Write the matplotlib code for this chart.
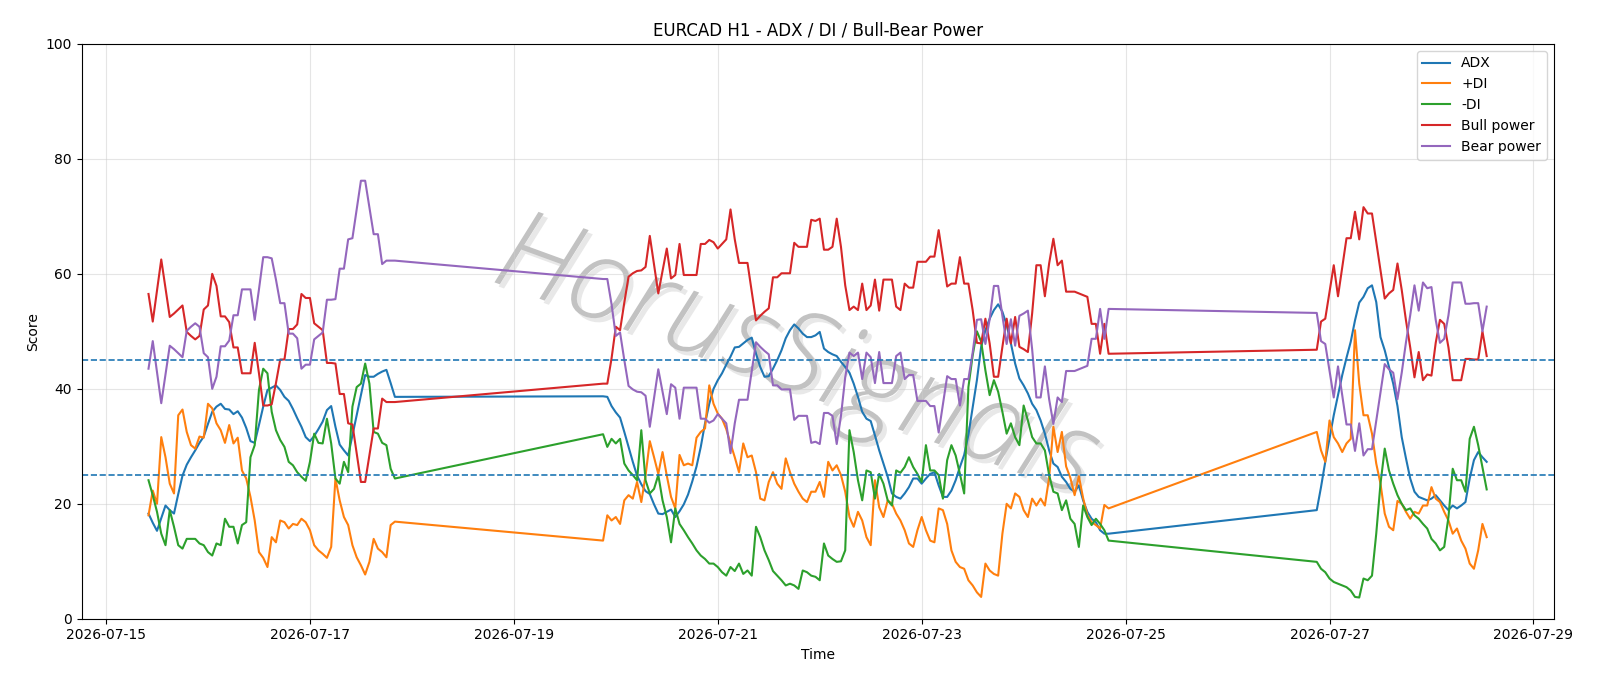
import matplotlib
matplotlib.use("Agg")
import matplotlib.pyplot as plt
import matplotlib.dates as mdates
import matplotlib.patheffects as pe
import numpy as np
import pandas as pd

# Hourly segments (market closed at weekends)
segment_starts = ["2026-07-15 10:00", "2026-07-19 21:00", "2026-07-26 21:00"]

adx_seg1 = [18.3, 16.7, 15.3, 17.5, 19.7, 18.9, 18.3, 21.7, 24.9, 26.8,
            28.1, 29.3, 30.6, 31.7, 33.9, 36.0, 36.9, 37.4, 36.5, 36.4,
            35.6, 36.1, 35.0, 33.2, 30.9, 30.6, 33.7, 36.9, 39.8, 40.2,
            40.6, 39.8, 38.6, 37.9, 36.5, 34.9, 33.4, 31.6, 30.9, 31.8,
            33.0, 34.3, 36.3, 37.0, 33.4, 30.3, 29.3, 28.4, 31.9, 35.4,
            38.9, 42.4, 42.1, 42.1, 42.6, 43.0, 43.3, 41.0, 38.6]
adx_seg2 = [38.7, 38.6, 37.0, 35.9, 35.0, 32.5, 29.9, 27.3, 24.9, 23.4,
            22.2, 21.7, 19.9, 18.3, 18.2, 18.6, 19.0, 17.7, 18.7, 19.9,
            21.6, 23.9, 26.5, 29.9, 34.0, 37.4, 40.0, 41.5, 42.7, 44.2,
            45.6, 47.2, 47.3, 47.9, 48.5, 48.9, 46.1, 43.8, 42.1, 42.2,
            43.5, 45.0, 46.7, 48.8, 50.2, 51.2, 50.5, 49.6, 49.0, 49.0,
            49.3, 49.9, 47.0, 46.4, 46.0, 45.7, 44.7, 43.8, 42.8, 40.9,
            38.6, 36.0, 34.8, 34.4, 31.9, 29.3, 27.0, 24.7, 21.8, 21.2,
            20.9, 21.8, 22.9, 24.4, 24.4, 23.5, 24.4, 25.2, 25.5, 23.2,
            21.2, 21.2, 22.3, 24.1, 26.4, 28.5, 32.0, 36.8, 41.5, 47.3,
            50.2, 52.2, 53.7, 54.7, 53.4, 51.1, 47.9, 44.4, 41.8, 40.6,
            39.2, 37.4, 36.3, 34.5, 32.2, 29.3, 27.0, 26.4, 24.7, 23.8,
            22.6, 22.1, 23.2, 20.6, 18.6, 17.4, 16.8, 15.4, 14.8, 14.8]
adx_seg3 = [18.9, 22.9, 27.3, 31.3, 35.4, 38.9, 42.4, 45.4, 48.2, 51.9,
            55.0, 56.0, 57.5, 58.0, 55.1, 49.0, 46.7, 43.8, 40.9, 37.0,
            31.6, 27.9, 24.4, 22.1, 21.2, 20.9, 20.6, 20.9, 21.5, 20.6,
            19.7, 18.9, 19.7, 19.2, 19.7, 20.3, 24.4, 27.6, 29.0, 28.1,
            27.3]

pdi_seg1 = [18.0, 22.3, 20.0, 31.6, 28.1, 23.5, 21.8, 35.4, 36.4, 32.5,
            30.2, 29.6, 31.7, 31.5, 37.4, 36.6, 34.0, 32.8, 30.6, 33.7,
            30.5, 31.5, 25.8, 24.4, 21.2, 17.1, 11.6, 10.6, 9.0, 14.2,
            13.3, 17.1, 16.8, 15.7, 16.5, 16.3, 17.4, 16.8, 15.4, 12.8,
            11.9, 11.3, 10.6, 12.5, 24.4, 20.6, 17.7, 16.3, 12.8, 10.7,
            9.3, 7.7, 9.9, 13.9, 12.2, 11.6, 10.7, 16.3, 16.9]
pdi_seg2 = [13.6, 18.0, 17.1, 17.7, 16.5, 20.6, 21.5, 20.9, 23.8, 20.3,
            24.9, 30.9, 28.1, 25.2, 29.0, 24.9, 21.2, 19.2, 28.5, 26.7,
            27.0, 26.7, 31.5, 32.5, 33.1, 40.6, 37.4, 35.7, 34.8, 33.0,
            30.5, 28.1, 25.5, 30.5, 28.1, 28.4, 25.5, 20.9, 20.6, 23.8,
            25.5, 23.5, 22.6, 27.9, 25.5, 23.5, 22.1, 20.9, 20.3, 22.1,
            22.1, 23.8, 21.2, 27.3, 25.8, 26.7, 25.0, 22.1, 17.7, 16.0,
            18.6, 17.1, 14.2, 12.8, 24.1, 19.4, 17.7, 20.6, 20.0, 18.3,
            17.1, 15.4, 13.1, 12.5, 15.4, 17.7, 15.4, 13.6, 13.3, 19.2,
            18.9, 16.5, 11.9, 9.9, 9.0, 8.7, 6.7, 5.8, 4.6, 3.8,
            9.6, 8.4, 7.8, 7.5, 14.8, 20.0, 19.2, 21.8, 21.2, 18.9,
            17.7, 20.9, 19.7, 20.9, 19.7, 24.5, 33.4, 29.0, 32.5, 26.5,
            24.5, 21.5, 24.8, 21.0, 18.0, 16.8, 16.3, 15.7, 19.8, 19.2]
pdi_seg3 = [32.5, 29.3, 27.3, 34.5, 31.6, 30.5, 29.0, 30.5, 31.3, 50.2,
            40.9, 35.4, 35.4, 32.2, 27.0, 23.5, 18.3, 16.0, 15.4, 20.5,
            20.0, 18.6, 17.4, 18.6, 18.3, 19.7, 19.7, 22.9, 20.9, 20.3,
            18.6, 17.1, 14.8, 15.7, 13.6, 12.2, 9.6, 8.7, 11.9, 16.5,
            14.2]

mdi_seg1 = [24.1, 21.5, 18.6, 14.8, 12.8, 18.9, 16.0, 12.8, 12.2, 13.9,
            13.9, 13.9, 13.1, 12.8, 11.6, 11.0, 13.1, 12.8, 17.4, 16.0,
            16.0, 13.1, 16.3, 16.8, 28.1, 30.2, 39.8, 43.5, 42.7, 36.0,
            32.8, 31.1, 29.9, 27.3, 26.7, 25.5, 24.7, 24.0, 27.3, 32.2,
            30.6, 30.5, 34.8, 30.5, 24.4, 23.5, 27.3, 25.5, 36.9, 40.3,
            40.9, 44.4, 40.9, 32.5, 32.2, 30.6, 30.2, 26.1, 24.4]
mdi_seg2 = [32.1, 29.9, 31.3, 30.5, 31.3, 27.0, 25.8, 25.0, 24.1, 32.8,
            24.1, 21.8, 22.6, 25.0, 20.6, 17.7, 13.3, 19.2, 16.5, 15.4,
            14.2, 13.1, 11.9, 11.0, 10.4, 9.6, 9.6, 9.0, 8.1, 7.5,
            9.0, 8.3, 9.6, 7.8, 8.4, 7.5, 16.0, 14.2, 11.9, 10.2,
            8.3, 7.5, 6.7, 5.8, 6.1, 5.8, 5.2, 8.4, 8.1, 7.5,
            7.3, 6.7, 13.1, 11.0, 10.4, 9.9, 10.0, 11.9, 32.8, 29.0,
            24.1, 20.6, 25.8, 25.5, 20.9, 25.2, 23.5, 20.6, 19.7, 25.8,
            25.4, 26.4, 28.1, 26.4, 25.2, 23.8, 30.2, 25.8, 25.8, 25.0,
            20.9, 27.6, 30.2, 28.4, 25.2, 21.8, 40.3, 45.8, 50.0, 48.2,
            43.2, 38.9, 41.5, 39.5, 36.0, 32.2, 34.0, 31.6, 30.2, 37.1,
            34.5, 31.6, 30.5, 30.5, 29.3, 25.0, 22.1, 21.8, 18.9, 20.6,
            17.4, 16.5, 12.5, 19.7, 17.7, 16.3, 17.4, 16.5, 15.4, 13.6]
mdi_seg3 = [9.9, 8.7, 8.1, 7.0, 6.4, 6.1, 5.8, 5.5, 4.9, 3.8,
            3.7, 7.0, 6.7, 7.5, 14.8, 23.5, 29.6, 25.8, 23.5, 21.5,
            20.0, 18.9, 19.2, 18.0, 17.4, 16.5, 15.7, 13.9, 13.1, 11.9,
            12.5, 17.7, 26.1, 24.1, 24.1, 22.1, 31.3, 33.4, 30.2, 26.4,
            22.5]

bull_seg1 = [56.5, 51.7, 57.1, 62.5, 57.5, 52.5, 53.1, 53.8, 54.5, 49.9,
             49.2, 48.6, 49.2, 53.8, 54.5, 60.0, 57.9, 52.6, 52.6, 51.6,
             47.2, 47.2, 42.7, 42.7, 42.7, 48.0, 42.7, 37.1, 37.1, 37.3,
             41.0, 45.1, 45.1, 50.4, 50.4, 51.2, 56.5, 55.8, 55.8, 51.4,
             50.8, 50.2, 44.5, 44.5, 44.4, 39.1, 39.1, 34.0, 33.8, 28.8,
             23.8, 23.8, 28.4, 33.1, 33.1, 38.3, 37.7, 37.7, 37.7]
bull_seg2 = [40.9, 40.9, 45.3, 50.8, 50.2, 55.0, 59.5, 60.1, 60.5, 60.6,
             61.2, 66.6, 61.6, 56.6, 60.5, 64.4, 59.2, 59.8, 65.2, 59.8,
             59.8, 59.8, 59.8, 65.2, 65.2, 65.9, 65.5, 64.4, 65.2, 66.0,
             71.2, 66.0, 61.9, 61.9, 61.9, 56.9, 51.9, 52.7, 53.4, 54.0,
             59.4, 59.4, 60.1, 60.1, 60.1, 65.4, 64.7, 64.7, 64.7, 69.4,
             69.2, 69.6, 64.2, 64.2, 64.7, 69.6, 64.7, 58.0, 53.7, 54.3,
             53.7, 58.3, 53.7, 54.5, 59.0, 53.6, 59.0, 59.0, 59.0, 54.3,
             53.7, 58.3, 57.6, 57.6, 62.1, 62.1, 62.1, 63.0, 63.0, 67.6,
             62.7, 57.8, 58.3, 58.3, 62.9, 58.3, 58.3, 53.7, 48.0, 47.9,
             52.2, 47.9, 42.1, 42.1, 47.3, 52.2, 47.9, 52.5, 47.3, 46.9,
             46.4, 53.1, 61.5, 61.5, 56.1, 61.8, 66.1, 61.5, 62.3, 56.9,
             56.9, 56.9, 56.6, 56.3, 56.0, 51.3, 51.3, 46.1, 51.3, 46.1]
bull_seg3 = [46.8, 51.7, 52.2, 56.9, 61.5, 56.1, 61.2, 66.2, 66.2, 70.8,
             66.0, 71.6, 70.5, 70.5, 65.6, 60.7, 55.7, 56.6, 57.2, 61.8,
             57.2, 51.9, 47.2, 42.0, 46.4, 41.5, 42.5, 42.3, 48.0, 52.0,
             51.3, 47.2, 41.5, 41.5, 41.5, 45.2, 45.2, 45.1, 45.1, 50.0,
             45.7]

bear_seg1 = [43.5, 48.3, 42.9, 37.5, 42.5, 47.5, 46.9, 46.2, 45.5, 50.1,
             50.8, 51.4, 50.8, 46.2, 45.5, 40.0, 42.1, 47.4, 47.4, 48.4,
             52.8, 52.8, 57.3, 57.3, 57.3, 52.0, 57.3, 62.9, 62.9, 62.7,
             59.0, 54.9, 54.9, 49.6, 49.6, 48.8, 43.5, 44.2, 44.2, 48.6,
             49.2, 49.8, 55.5, 55.5, 55.6, 60.9, 60.9, 66.0, 66.2, 71.2,
             76.2, 76.2, 71.6, 66.9, 66.9, 61.7, 62.3, 62.3, 62.3]
bear_seg2 = [59.1, 59.1, 54.7, 49.2, 49.8, 45.0, 40.5, 39.9, 39.5, 39.4,
             38.8, 33.4, 38.4, 43.4, 39.5, 35.6, 40.8, 40.2, 34.8, 40.2,
             40.2, 40.2, 40.2, 34.8, 34.8, 34.1, 34.5, 35.6, 34.8, 34.0,
             28.8, 34.0, 38.1, 38.1, 38.1, 43.1, 48.1, 47.3, 46.6, 46.0,
             40.6, 40.6, 39.9, 39.9, 39.9, 34.6, 35.3, 35.3, 35.3, 30.6,
             30.8, 30.4, 35.8, 35.8, 35.3, 30.4, 35.3, 42.0, 46.3, 45.7,
             46.3, 41.7, 46.3, 45.5, 41.0, 46.4, 41.0, 41.0, 41.0, 45.7,
             46.3, 41.7, 42.4, 42.4, 37.9, 37.9, 37.9, 37.0, 37.0, 32.4,
             37.3, 42.2, 41.7, 41.7, 37.1, 41.7, 41.7, 46.3, 52.0, 52.1,
             47.8, 52.1, 57.9, 57.9, 52.7, 47.8, 52.1, 47.5, 52.7, 53.1,
             53.6, 46.9, 38.5, 38.5, 43.9, 38.2, 33.9, 38.5, 37.7, 43.1,
             43.1, 43.1, 43.4, 43.7, 44.0, 48.7, 48.7, 53.9, 48.7, 53.9]
bear_seg3 = [53.2, 48.3, 47.8, 43.1, 38.5, 43.9, 38.8, 33.8, 33.8, 29.2,
             34.0, 28.4, 29.5, 29.5, 34.4, 39.3, 44.3, 43.4, 42.8, 38.2,
             42.8, 48.1, 52.8, 58.0, 53.6, 58.5, 57.5, 57.7, 52.0, 48.0,
             48.7, 52.8, 58.5, 58.5, 58.5, 54.8, 54.8, 54.9, 54.9, 50.0,
             54.3]

upper_level = 45
lower_level = 25


def build(segs):
    times, vals = [], []
    for start, seg in zip(segment_starts, segs):
        times.append(pd.date_range(start, periods=len(seg), freq="h"))
        vals.extend(seg)
    return times[0].append(times[1:]), np.array(vals)


series = [
    ("ADX", "#1f77b4", [adx_seg1, adx_seg2, adx_seg3]),
    ("+DI", "#ff7f0e", [pdi_seg1, pdi_seg2, pdi_seg3]),
    ("-DI", "#2ca02c", [mdi_seg1, mdi_seg2, mdi_seg3]),
    ("Bull power", "#d62728", [bull_seg1, bull_seg2, bull_seg3]),
    ("Bear power", "#9467bd", [bear_seg1, bear_seg2, bear_seg3]),
]

fig = plt.figure(figsize=(16, 6.86), dpi=100)
ax = fig.add_axes([0.051, 0.098, 0.920, 0.838])

ax.text(0.497, 0.475, "HorusSignals", transform=fig.transFigure, fontsize=82,
        color="#c2c2c2", family=["Open Sans", "DejaVu Sans"], fontweight=300,
        rotation=-20, ha="center", va="center", style="italic", zorder=0.5,
        path_effects=[pe.SimplePatchShadow(offset=(3, -3),
                                           shadow_rgbFace="#e8e8e8", alpha=1.0),
                      pe.Normal()])

for name, color, segs in series:
    t, v = build(segs)
    ax.plot(t, v, color=color, lw=1.5, label=name, zorder=2)

ax.axhline(upper_level, color="#1f77b4", ls="--", lw=1.2, zorder=2)
ax.axhline(lower_level, color="#1f77b4", ls="--", lw=1.2, zorder=2)

ax.set_ylim(0, 100)
ax.set_title("EURCAD H1 - ADX / DI / Bull-Bear Power", fontsize=12)
ax.set_xlabel("Time", fontsize=10)
ax.set_ylabel("Score", fontsize=10)
ax.grid(True, color="#cccccc", alpha=0.5, lw=0.8)
ax.xaxis.set_major_locator(mdates.DayLocator(bymonthday=list(range(1, 32, 2))))
ax.xaxis.set_major_formatter(mdates.DateFormatter("%Y-%m-%d"))
ax.tick_params(labelsize=10)

ax.legend(loc="upper right", fontsize=10)

fig.savefig("out.png", dpi=100, facecolor="white")
